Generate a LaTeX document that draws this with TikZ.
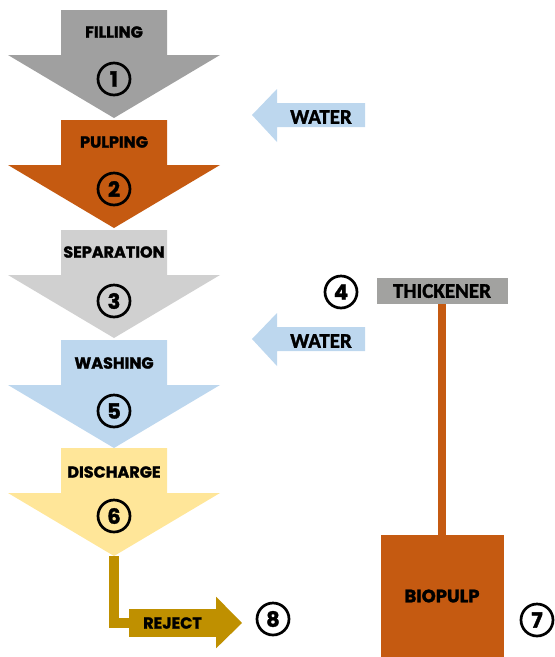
\documentclass[tikz,border=0pt]{standalone}
\usepackage{fontspec}
\newfontfamily\stagefont{Poppins Bold}[FakeBold=1.6]
\newfontfamily\sidefont{Carlito Bold}[FakeBold=1.6]
\definecolor{fillgray}{HTML}{A0A0A0}
\definecolor{pulporange}{HTML}{C55A11}
\definecolor{sepgray}{HTML}{D0D0D0}
\definecolor{washblue}{HTML}{BDD7EE}
\definecolor{dischyellow}{HTML}{FFE699}
\definecolor{rejectgold}{HTML}{BF9000}
\definecolor{thickgray}{HTML}{A2A2A0}
\begin{document}
\begin{tikzpicture}[x=1pt, y=-1pt,
        stagelabel/.style={font=\stagefont\fontsize{16}{16}\selectfont, inner sep=0pt},
        stepnum/.style={circle, draw=black, line width=2.7pt, minimum size=32pt, inner sep=0pt, font=\stagefont\fontsize{21}{21}\selectfont},
        sidelabel/.style={font=\sidefont\fontsize{21}{21}\selectfont, inner sep=0pt},
        thickbox/.style={rectangle, fill=thickgray, minimum width=131pt, minimum height=26pt, inner sep=0pt, font=\sidefont\fontsize{21}{21}\selectfont},
        pulpbox/.style={rectangle, fill=pulporange, minimum width=123pt, minimum height=122pt, inner sep=0pt, font=\stagefont\fontsize{18}{18}\selectfont},
        rejectbox/.style={rectangle, fill=rejectgold, minimum width=87pt, minimum height=28pt, inner sep=0pt, font=\stagefont\fontsize{16}{16}\selectfont},
        pics/stage/.style={code={
            \fill[#1] (-53,0) -- (53,0) -- (53,45) -- (106,45) -- (0,108) -- (-106,45) -- (-53,45) -- cycle;
            \coordinate (-tip) at (0,108);}},
        pics/inflow/.style={code={
            \fill[washblue] (0,0) -- (25,-26) -- (25,-12) -- (113,-12) -- (113,12) -- (25,12) -- (25,27) -- cycle;}}
    ]
        \useasboundingbox (0,0) rectangle (555,657);

        % process stages
        \pic (filling) at (114,10) {stage=fillgray};
        \pic (pulping) at (114,120) {stage=pulporange};
        \pic (separation) at (114,230) {stage=sepgray};
        \pic (washing) at (114,340) {stage=washblue};
        \pic (discharge) at (114,448) {stage=dischyellow};

        \node[stagelabel] (lfilling) at (114,32) {FILLING};
        \node[stagelabel] (lpulping) at (114,142) {PULPING};
        \node[stagelabel] (lseparation) at (114,252) {SEPARATION};
        \node[stagelabel] (lwashing) at (114,363) {WASHING};
        \node[stagelabel] (ldischarge) at (114,472) {DISCHARGE};

        \node[stepnum] (n1) at (114,79) {1};
        \node[stepnum] (n2) at (114,189) {2};
        \node[stepnum] (n3) at (114,301) {3};
        \node[stepnum] (n5) at (114,411) {5};
        \node[stepnum] (n6) at (114,516) {6};

        % water inlets
        \pic (water1) at (252,115) {inflow};
        \pic (water2) at (252,339) {inflow};
        \node[sidelabel] (lwater1) at (321,117) {WATER};
        \node[sidelabel] (lwater2) at (321,341) {WATER};

        % thickener and biopulp
        \node[thickbox] (thickener) at (442,291) {THICKENER};
        \node[stepnum] (n4) at (341,292) {4};
        \node[pulpbox] (biopulp) at (442,596) {BIOPULP};
        \node[stepnum] (n7) at (537,620) {7};
        \draw[line width=8pt, pulporange] (thickener) -- (biopulp);

        % reject
        \node[rejectbox] (reject) at (172.5,623) {REJECT};
        \fill[rejectgold] ([yshift=12pt]reject.north east) -- (242,623) -- ([yshift=-11pt]reject.south east) -- cycle;
        \draw[line width=10pt, rejectgold] (discharge-tip) |- (reject.west);
        \node[stepnum] (n8) at (273,619) {8};
    \end{tikzpicture}
\end{document}
